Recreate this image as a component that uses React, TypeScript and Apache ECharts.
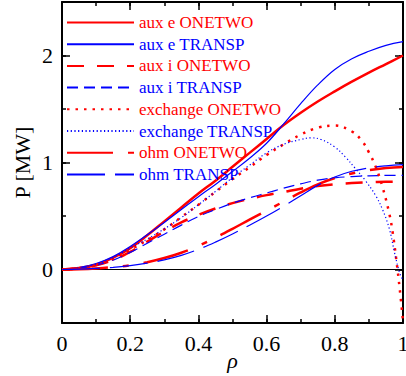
import React, { useEffect, useRef } from "react";
import * as echarts from "echarts";

// rho grid shared by aux e, aux i and ohm curves
const rhoGrid = [0, 0.05, 0.1, 0.15, 0.2, 0.25, 0.3, 0.35, 0.4, 0.45, 0.5, 0.55, 0.6, 0.65, 0.7, 0.75, 0.8, 0.85, 0.9, 0.95, 1];

const auxeOnetwo = [0, 0.015, 0.045, 0.11, 0.2, 0.32, 0.45, 0.58, 0.71, 0.83, 0.96, 1.09, 1.22, 1.35, 1.465, 1.57, 1.665, 1.755, 1.84, 1.92, 2.0];
const auxeTransp = [0, 0.018, 0.055, 0.12, 0.215, 0.325, 0.44, 0.56, 0.68, 0.795, 0.915, 1.04, 1.18, 1.36, 1.55, 1.725, 1.87, 1.97, 2.04, 2.095, 2.13];
const auxiOnetwo = [0, 0.012, 0.04, 0.09, 0.165, 0.26, 0.355, 0.44, 0.51, 0.57, 0.62, 0.66, 0.695, 0.725, 0.755, 0.78, 0.797, 0.808, 0.815, 0.82, 0.822];
const auxiTransp = [0, 0.012, 0.04, 0.088, 0.16, 0.245, 0.33, 0.415, 0.495, 0.56, 0.62, 0.67, 0.715, 0.76, 0.8, 0.835, 0.857, 0.868, 0.875, 0.879, 0.88];
const ohmOnetwo = [0, 0.003, 0.01, 0.022, 0.04, 0.068, 0.107, 0.157, 0.22, 0.297, 0.38, 0.466, 0.55, 0.635, 0.72, 0.795, 0.855, 0.898, 0.928, 0.948, 0.958];
const ohmTransp = [0, 0.003, 0.01, 0.02, 0.037, 0.06, 0.09, 0.132, 0.188, 0.256, 0.332, 0.414, 0.5, 0.592, 0.69, 0.786, 0.865, 0.918, 0.95, 0.969, 0.98];

const rhoExchOnetwo = [0, 0.05, 0.1, 0.15, 0.2, 0.25, 0.3, 0.35, 0.4, 0.45, 0.5, 0.55, 0.6, 0.65, 0.7, 0.75, 0.8, 0.85, 0.88, 0.9, 0.92, 0.94, 0.96, 0.97, 0.98, 0.99, 1];
const exchOnetwo = [0, 0.012, 0.042, 0.1, 0.185, 0.275, 0.375, 0.49, 0.605, 0.725, 0.845, 0.955, 1.07, 1.17, 1.26, 1.325, 1.345, 1.29, 1.2, 1.095, 0.96, 0.77, 0.52, 0.34, 0.1, -0.17, -0.48];

const rhoExchTransp = [0, 0.05, 0.1, 0.15, 0.2, 0.25, 0.3, 0.35, 0.4, 0.45, 0.5, 0.55, 0.6, 0.65, 0.7, 0.73, 0.76, 0.8, 0.83, 0.86, 0.89, 0.92, 0.94, 0.96, 0.975, 0.99, 1];
const exchTransp = [0, 0.015, 0.05, 0.11, 0.2, 0.285, 0.38, 0.485, 0.605, 0.73, 0.86, 0.975, 1.09, 1.17, 1.215, 1.23, 1.215, 1.145, 1.055, 0.945, 0.83, 0.69, 0.56, 0.38, 0.16, -0.03, -0.1];

const zeroLineX = [0, 1];
const zeroLineY = [0, 0];

const seriesNames = [
  "aux e ONETWO",
  "aux e TRANSP",
  "aux i ONETWO",
  "aux i TRANSP",
  "exchange ONETWO",
  "exchange TRANSP",
  "ohm ONETWO",
  "ohm TRANSP",
];

const yMajorTicks = [0, 1, 2];

export default function App() {
  const ref = useRef<HTMLDivElement>(null);

  useEffect(() => {
    const chart = echarts.init(ref.current!, null, { renderer: "svg" });
    const RED = "#ff0000";
    const BLUE = "#0000ff";
    const font = "'Liberation Serif', 'Times New Roman', serif";
    const pair = (xs: number[], ys: number[]) => xs.map((x, i) => [x, ys[i]]);
    const mk = (name: string, xs: number[], ys: number[], color: string, width: number, dash: any) => ({
      name,
      type: "line",
      data: pair(xs, ys),
      showSymbol: false,
      symbol: "none",
      smooth: 0.4,
      clip: true,
      lineStyle: { color, width, type: dash, cap: "butt" },
      itemStyle: { color },
      emphasis: { disabled: true },
      z: 3,
    });

    const frameLine = { show: true, onZero: false, lineStyle: { color: "#000", width: 2 } };
    const noLine = { show: false, onZero: false };
    const tickStyle = { color: "#000", width: 1.5 };

    const xBase = { type: "value", min: 0, max: 1, gridIndex: 0, splitLine: { show: false } };
    const yBase = { type: "value", min: -0.5, max: 2.5, interval: 0.5, gridIndex: 0, splitLine: { show: false } };

    const option: any = {
      animation: false,
      backgroundColor: "#fff",
      grid: { left: 62, right: 3, top: 2, bottom: 53, containLabel: false, outerBoundsMode: "none" },
      legend: {
        left: 61,
        top: 9,
        orient: "vertical",
        itemWidth: 67,
        itemHeight: 14,
        itemGap: 4.7,
        selectedMode: false,
        itemStyle: { opacity: 0, borderWidth: 0 },
        textStyle: { fontFamily: font, fontSize: 17, lineHeight: 17 },
        data: seriesNames.map((n) => ({
          name: n,
          textStyle: { color: n.includes("ONETWO") ? RED : BLUE },
        })),
      },
      xAxis: [
        {
          ...xBase,
          position: "bottom",
          interval: 0.2,
          axisLine: frameLine,
          axisTick: { show: true, inside: true, length: 8, lineStyle: tickStyle },
          axisLabel: {
            margin: 9,
            fontSize: 22,
            fontFamily: font,
            color: "#000",
            formatter: (v: number) => String(+v.toFixed(1)),
          },
          name: "ρ",
          nameLocation: "middle",
          nameGap: 26,
          nameMoveOverlap: false,
          nameTextStyle: { fontFamily: font, fontSize: 22, fontStyle: "italic", color: "#000" },
        },
        {
          ...xBase,
          position: "bottom",
          interval: 0.1,
          axisLine: noLine,
          axisTick: { show: true, inside: true, length: 4, lineStyle: tickStyle },
          axisLabel: { show: false },
        },
        {
          ...xBase,
          position: "top",
          interval: 0.2,
          axisLine: frameLine,
          axisTick: { show: true, inside: true, length: 8, lineStyle: tickStyle },
          axisLabel: { show: false },
        },
        {
          ...xBase,
          position: "top",
          interval: 0.1,
          axisLine: noLine,
          axisTick: { show: true, inside: true, length: 4, lineStyle: tickStyle },
          axisLabel: { show: false },
        },
      ],
      yAxis: [
        {
          ...yBase,
          position: "left",
          axisLine: frameLine,
          axisTick: { show: true, inside: true, length: 8, lineStyle: tickStyle, customValues: yMajorTicks },
          axisLabel: {
            margin: 9,
            fontSize: 22,
            fontFamily: font,
            color: "#000",
            customValues: yMajorTicks,
            formatter: (v: number) => (Math.abs(v - Math.round(v)) < 1e-6 ? String(Math.round(v)) : ""),
          },
          name: "P [MW]",
          nameLocation: "middle",
          nameGap: 29,
          nameMoveOverlap: false,
          nameTextStyle: { fontFamily: font, fontSize: 22, color: "#000" },
        },
        {
          ...yBase,
          position: "left",
          axisLine: noLine,
          axisTick: { show: true, inside: true, length: 4, lineStyle: tickStyle },
          axisLabel: { show: false },
        },
        {
          ...yBase,
          position: "right",
          axisLine: frameLine,
          axisTick: { show: true, inside: true, length: 8, lineStyle: tickStyle, customValues: yMajorTicks },
          axisLabel: { show: false },
        },
        {
          ...yBase,
          position: "right",
          axisLine: noLine,
          axisTick: { show: true, inside: true, length: 4, lineStyle: tickStyle },
          axisLabel: { show: false },
        },
      ],
      series: [
        {
          name: "zero",
          type: "line",
          data: pair(zeroLineX, zeroLineY),
          showSymbol: false,
          symbol: "none",
          lineStyle: { color: "#000", width: 1.2 },
          silent: true,
          z: 2,
        },
        mk(seriesNames[0], rhoGrid, auxeOnetwo, RED, 2.5, "solid"),
        mk(seriesNames[1], rhoGrid, auxeTransp, BLUE, 1.2, "solid"),
        mk(seriesNames[2], rhoGrid, auxiOnetwo, RED, 2.5, [17, 13]),
        mk(seriesNames[3], rhoGrid, auxiTransp, BLUE, 1.2, [11, 6]),
        mk(seriesNames[4], rhoExchOnetwo, exchOnetwo, RED, 2.5, [2.5, 6]),
        mk(seriesNames[5], rhoExchTransp, exchTransp, BLUE, 1.2, [1.2, 2.5]),
        mk(seriesNames[6], rhoGrid, ohmOnetwo, RED, 2.5, [46, 15, 6, 15]),
        mk(seriesNames[7], rhoGrid, ohmTransp, BLUE, 1.2, [38, 10]),
      ],
    };

    chart.setOption(option);
    return () => chart.dispose();
  }, []);

  return (
    <div
      ref={ref}
      style={{ position: "absolute", left: 0, top: 0, width: 406, height: 376, background: "#fff" }}
    />
  );
}
